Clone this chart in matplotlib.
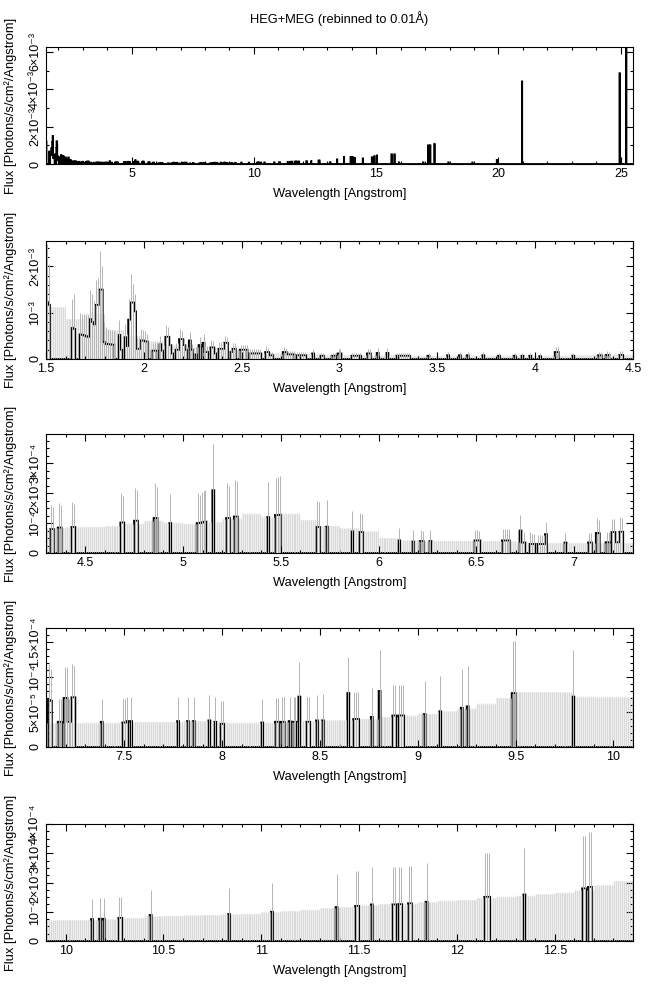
import numpy as np
import matplotlib.pyplot as plt
from matplotlib.ticker import MultipleLocator, FixedLocator, FixedFormatter

plt.rcParams['font.family'] = ['Liberation Sans', 'DejaVu Sans']
plt.rcParams['path.simplify'] = False

BIN = 0.01
LO, HI = 1.5, 25.5
UNIT = 1e-5   # flux values below are in 1e-5 photons/s/cm2/A

# non-empty bins: left edge [A], flux, top of error bar
line_wave = [1.50, 1.51, 1.63, 1.64, 1.67, 1.68, 1.69, 1.70, 1.71, 1.72, 1.73, 1.74, 1.75, 1.76, 1.77, 1.78,
             1.79, 1.80, 1.81, 1.82, 1.83, 1.84, 1.87, 1.88, 1.90, 1.91, 1.92, 1.93, 1.94, 1.95, 1.96, 1.97,
             1.98, 1.99, 2.00, 2.01, 2.04, 2.05, 2.06, 2.08, 2.09, 2.11, 2.12, 2.13, 2.14, 2.16, 2.17, 2.18,
             2.19, 2.20, 2.21, 2.23, 2.24, 2.26, 2.28, 2.30, 2.31, 2.32, 2.34, 2.35, 2.36, 2.38, 2.39, 2.40,
             2.41, 2.42, 2.44, 2.45, 2.46, 2.49, 2.50, 2.51, 2.52, 2.54, 2.55, 2.56, 2.57, 2.58, 2.59, 2.62,
             2.63, 2.64, 2.65, 2.71, 2.72, 2.73, 2.74, 2.75, 2.76, 2.78, 2.79, 2.80, 2.81, 2.82, 2.86, 2.90,
             2.91, 2.96, 2.97, 2.99, 3.00, 3.06, 3.07, 3.08, 3.09, 3.10, 3.14, 3.15, 3.19, 3.24, 3.29, 3.30,
             3.31, 3.32, 3.33, 3.34, 3.35, 3.45, 3.55, 3.61, 3.65, 3.73, 3.81, 3.89, 3.93, 3.97, 4.02, 4.10,
             4.11, 4.19,
             4.32, 4.33, 4.36, 4.37, 4.43, 4.44, 4.68, 4.69, 4.75, 4.76, 4.85, 4.86, 4.93, 5.07, 5.08, 5.09,
             5.10, 5.11, 5.15, 5.22, 5.23, 5.26, 5.27, 5.43, 5.47, 5.48, 5.49, 5.68, 5.69, 5.73, 5.86, 5.90,
             5.91, 6.10, 6.17, 6.21, 6.22, 6.26, 6.49, 6.50, 6.51, 6.63, 6.64, 6.65, 6.66, 6.72, 6.73, 6.74,
             6.77, 6.78, 6.79, 6.81, 6.82, 6.83, 6.84, 6.85, 6.95, 7.07, 7.08,
             7.11, 7.12, 7.16, 7.17, 7.19, 7.20, 7.21, 7.22, 7.23, 7.24, 7.38, 7.49, 7.50, 7.51, 7.53, 7.77,
             7.82, 7.85, 7.93, 7.96, 7.99, 8.00, 8.20, 8.27, 8.28, 8.30, 8.31, 8.34, 8.36, 8.37, 8.39, 8.43,
             8.44, 8.48, 8.51, 8.64, 8.67, 8.68, 8.69, 8.76, 8.80, 8.87, 8.88, 8.90, 8.91, 8.92, 9.03, 9.11,
             9.22, 9.25, 9.48, 9.49, 9.79,
             10.13, 10.17, 10.19, 10.27, 10.28, 10.43, 10.83, 11.05, 11.38, 11.48, 11.49, 11.56, 11.67, 11.68,
             11.70, 11.71, 11.75, 11.76, 11.84, 12.14, 12.15, 12.16, 12.34, 12.64, 12.65, 12.67, 12.68,
             13.12, 13.40, 13.68, 13.95, 13.96, 14.02, 14.03, 14.12, 14.45, 14.82, 14.92, 15.02, 15.62, 15.63,
             15.74, 15.75, 15.93, 16.92, 17.12, 17.13, 17.20, 17.21, 17.38, 17.95, 18.93, 19.93, 20.96, 24.95,
             25.22]
line_flux = [123, 117, 67, 65, 53, 52, 51, 49, 48, 86, 80, 75, 117, 117, 150, 150,
             37, 33, 32, 32, 31, 31, 52, 20, 47, 28, 85, 122, 122, 103, 22, 22,
             40, 40, 38, 38, 18, 18, 18, 32, 18, 48, 48, 30, 12, 20, 20, 43,
             43, 30, 20, 40, 20, 10, 30, 35, 15, 15, 25, 25, 12, 22, 22, 22,
             35, 35, 15, 22, 22, 20, 20, 20, 20, 12, 12, 12, 12, 12, 12, 15,
             15, 8, 8, 15, 15, 10, 10, 10, 10, 8, 8, 8, 8, 8, 12, 7,
             7, 7, 7, 12, 12, 7, 7, 7, 7, 7, 12, 12, 13, 13, 7, 7,
             7, 7, 7, 7, 7, 7, 8, 8, 8, 8, 7, 7, 7, 7, 6, 15,
             15, 7,
             8.0, 8.0, 8.5, 8.5, 8.7, 8.7, 10.2, 10.2, 10.8, 10.8, 11.7, 11.7, 10.0, 10.0, 10.0, 10.2,
             10.3, 10.5, 21.0, 11.7, 11.7, 12.2, 12.2, 12.0, 12.7, 12.7, 12.8, 8.7, 8.7, 8.8, 7.2, 7.0,
             7.0, 4.2, 3.8, 4.0, 4.0, 4.0, 4.2, 4.2, 4.2, 4.2, 4.2, 4.2, 4.2, 7.5, 3.5, 3.5,
             3.0, 3.0, 3.0, 3.0, 3.0, 3.0, 3.0, 6.3, 3.5, 3.5, 3.5,
             6.7, 6.6, 3.6, 3.6, 7.0, 7.0, 3.6, 3.6, 7.1, 7.1, 3.6, 3.5, 3.5, 3.7, 3.7, 3.7,
             3.7, 3.7, 3.8, 3.6, 3.3, 3.3, 3.5, 3.6, 3.6, 3.6, 3.6, 3.7, 3.6, 3.6, 7.2, 3.6,
             3.6, 3.8, 3.8, 7.7, 4.0, 4.0, 4.0, 4.3, 8.0, 4.5, 4.5, 4.5, 4.5, 4.5, 4.7, 5.1,
             5.6, 5.8, 7.7, 7.7, 7.2,
             7.5, 7.6, 7.6, 7.9, 7.9, 8.9, 9.2, 10.0, 11.6, 12.0, 12.0, 12.5, 12.5, 12.5,
             12.6, 12.6, 12.9, 12.9, 13.4, 15.1, 15.1, 15.1, 15.9, 18.0, 18.0, 18.5, 18.5,
             10, 25, 38, 38, 38, 38, 38, 33, 30, 36, 42, 46, 52, 52,
             52, 52, 9, 9, 100, 100, 100, 100, 108, 9, 8, 22, 442, 486,
             640]
line_err = [248, 205, 130, 140, 100, 98, 98, 96, 95, 150, 140, 125, 170, 175, 234, 200,
            80, 70, 65, 62, 62, 60, 85, 50, 75, 55, 130, 184, 162, 140, 45, 45,
            65, 62, 60, 55, 35, 35, 35, 50, 33, 73, 70, 48, 28, 35, 35, 65,
            60, 45, 32, 58, 32, 25, 48, 55, 28, 28, 40, 38, 24, 36, 36, 36,
            50, 48, 26, 34, 34, 30, 30, 30, 30, 22, 22, 22, 22, 22, 22, 28,
            24, 16, 16, 26, 24, 18, 18, 18, 18, 15, 15, 15, 15, 15, 22, 14,
            14, 14, 14, 22, 22, 14, 14, 14, 14, 14, 22, 22, 23, 23, 14, 14,
            14, 14, 14, 14, 14, 14, 15, 15, 15, 15, 14, 14, 14, 14, 13, 26,
            26, 14,
            16.0, 15.5, 16.6, 16.0, 17.2, 16.5, 20.0, 19.0, 21.7, 21.0, 23.4, 22.0, 19.8, 20.0, 19.5, 20.5,
            20.8, 21.0, 36.3, 23.4, 22.5, 24.5, 24.0, 23.9, 25.0, 25.5, 25.8, 17.4, 17.0, 17.7, 14.0, 13.3,
            13.0, 8.2, 7.6, 7.6, 7.5, 7.8, 7.6, 7.6, 7.5, 8.0, 8.0, 8.0, 8.0, 12.7, 7.0, 7.0,
            7.0, 6.5, 6.5, 6.0, 6.0, 6.0, 6.0, 10.5, 6.6, 6.6, 6.6,
            11.8, 11.2, 6.9, 6.9, 11.5, 11.4, 6.9, 6.9, 11.9, 11.6, 6.9, 6.9, 6.9, 7.2, 7.2, 7.1,
            7.1, 7.1, 7.4, 7.1, 6.6, 6.6, 6.9, 7.0, 7.0, 7.1, 7.1, 7.1, 7.1, 7.1, 12.1, 7.2,
            7.2, 7.5, 7.6, 12.9, 7.8, 7.8, 7.8, 8.4, 13.9, 8.9, 8.9, 8.9, 8.9, 8.9, 9.4, 10.1,
            11.2, 11.6, 15.2, 15.2, 13.9,
            14.3, 14.6, 14.6, 15.2, 15.2, 17.5, 18.0, 19.8, 22.9, 23.8, 23.8, 25.2, 25.2, 25.2,
            25.3, 25.3, 25.7, 25.7, 26.7, 30.1, 30.1, 30.1, 31.8, 35.9, 35.9, 37.2, 37.2,
            20, 50, 76, 76, 76, 76, 76, 66, 60, 72, 84, 92, 104, 104,
            104, 104, 18, 18, 200, 200, 200, 200, 216, 18, 16, 44, 884, 972,
            1280]

# level of the empty-bin error bars, one value per 0.1 A from 1.5 A
env_start = 1.5
env_step = 0.1
env_level = [112, 86, 98, 62, 50, 38, 31, 26, 23, 20,
             16, 13, 11, 10, 9, 8.5, 8, 8, 7.5, 7.5,
             7.5, 7.5, 7.5, 7.5, 7.5, 7.5, 7.5, 7.8, 8.2, 8.6,
             8.8, 9.0, 9.8, 10.8, 10.2, 9.8, 10.3, 11.5, 13.2, 12.2,
             13.2, 11.0, 9.0, 8.2, 7.2, 5.0, 4.2, 4.0, 4.0, 4.0,
             4.0, 4.0, 3.6, 3.4, 3.4, 3.4, 3.4, 3.4, 3.5, 3.5,
             3.6, 3.6, 3.6, 3.7, 3.7, 3.5, 3.5, 3.5, 3.6, 3.7,
             3.8, 3.8, 4.0, 4.3, 4.5, 4.7, 5.1, 5.5, 6.2, 7.0,
             7.8, 7.8, 7.8, 7.2, 7.1, 7.1, 7.1, 7.4, 7.9, 8.4,
             8.6, 8.8, 8.9, 9.1, 9.3, 9.8, 10.2, 10.7, 11.2, 11.6,
             12.2, 12.7, 12.8, 13.2, 13.8, 14.0, 14.6, 15.0, 15.5, 16.0,
             16.5, 17.3, 19.0, 20.5]

# panel settings
xlims = [(1.5, 25.5), (1.5, 4.5), (4.3, 7.3), (7.1, 10.1), (9.9, 12.9)]
ylims = [6.26e-3, 2.55e-3, 3.98e-4, 1.7e-4, 4.0e-4]
xmajor = [5, 0.5, 0.5, 0.5, 0.5]
xminor = [1, 0.1, 0.1, 0.1, 0.1]
yticks = [[0, 2e-3, 4e-3, 6e-3], [0, 1e-3, 2e-3], [0, 1e-4, 2e-4, 3e-4],
          [0, 5e-5, 1e-4, 1.5e-4], [0, 1e-4, 2e-4, 3e-4, 4e-4]]
ylabels = [['0', '2×10⁻³', '4×10⁻³', '6×10⁻³'], ['0', '10⁻³', '2×10⁻³'],
           ['0', '10⁻⁴', '2×10⁻⁴', '3×10⁻⁴'], ['0', '5×10⁻⁵', '10⁻⁴', '1.5×10⁻⁴'],
           ['0', '10⁻⁴', '2×10⁻⁴', '3×10⁻⁴', '4×10⁻⁴']]
yminor = [1e-3, 2e-4, 2.5e-5, 1e-5, 2.5e-5]
frames = [(47, 164), (241, 359), (434, 553), (628, 747), (824, 941)]  # top/bottom in px

W, H = 650, 991
fig = plt.figure(figsize=(W / 100, H / 100), dpi=100)

edges = np.round(np.arange(LO, HI + BIN / 2, BIN), 2)
centers = edges[:-1] + BIN / 2
flux = np.zeros(len(centers))
err = np.zeros(len(centers))
idx = np.round((np.array(line_wave) - LO) / BIN).astype(int)
flux[idx] = np.array(line_flux) * UNIT
err[idx] = np.array(line_err) * UNIT

env = np.zeros(len(centers))
seg = np.floor((centers - env_start) / env_step + 1e-9).astype(int)
ok = seg < len(env_level)
env[ok] = np.array(env_level)[seg[ok]] * UNIT

AX_L, AX_R = 46, 633
for i in range(5):
    top, bot = frames[i]
    ax = fig.add_axes([AX_L / W, 1 - bot / H, (AX_R - AX_L) / W, (bot - top) / H])
    x0, x1 = xlims[i]
    if i > 0:
        m = (centers > x0 - 0.02) & (centers < x1 + 0.02)
        ax.stairs(env, edges, fill=True, color='#efefef', lw=0)
        ax.vlines(centers[m], 0, env[m], color='#d0d0d0', lw=0.5)
        nz = m & (flux > 0)
        ax.vlines(centers[nz], 0, err[nz], color='#b4b4b4', lw=0.7)
    ax.stairs(flux, edges, color='black', lw=1.3, baseline=0)

    ax.set_xlim(x0, x1)
    ax.set_ylim(0, ylims[i])
    ax.xaxis.set_major_locator(MultipleLocator(xmajor[i]))
    ax.xaxis.set_minor_locator(MultipleLocator(xminor[i]))
    ax.yaxis.set_major_locator(FixedLocator(yticks[i]))
    ax.yaxis.set_major_formatter(FixedFormatter(ylabels[i]))
    ax.yaxis.set_minor_locator(MultipleLocator(yminor[i]))
    ax.xaxis.set_major_formatter(plt.FuncFormatter(lambda v, p: ('%g' % v)))
    ax.tick_params(which='both', direction='in', top=True, right=True, width=0.8, labelsize=9)
    ax.tick_params(which='major', length=5, pad=3)
    ax.tick_params(which='minor', length=2.5)
    ax.tick_params(axis='y', pad=3.5)
    for lab in ax.get_yticklabels():
        lab.set_rotation(90)
        lab.set_va('center')
    for s in ax.spines.values():
        s.set_linewidth(0.8)

    ax.set_xlabel('Wavelength [Angstrom]', fontsize=9.3)
    ax.xaxis.set_label_coords(0.5, -24 / (bot - top))
    ax.set_ylabel('Flux [Photons/s/cm²/Angstrom]', fontsize=9.3)
    ax.yaxis.set_label_coords(-29 / (AX_R - AX_L), 0.5)

fig.text((AX_L + AX_R) / 2 / W, 1 - 19 / H, 'HEG+MEG (rebinned to 0.01Å)', ha='center', va='center', fontsize=9.3)

plt.savefig('out.png', dpi=100)
